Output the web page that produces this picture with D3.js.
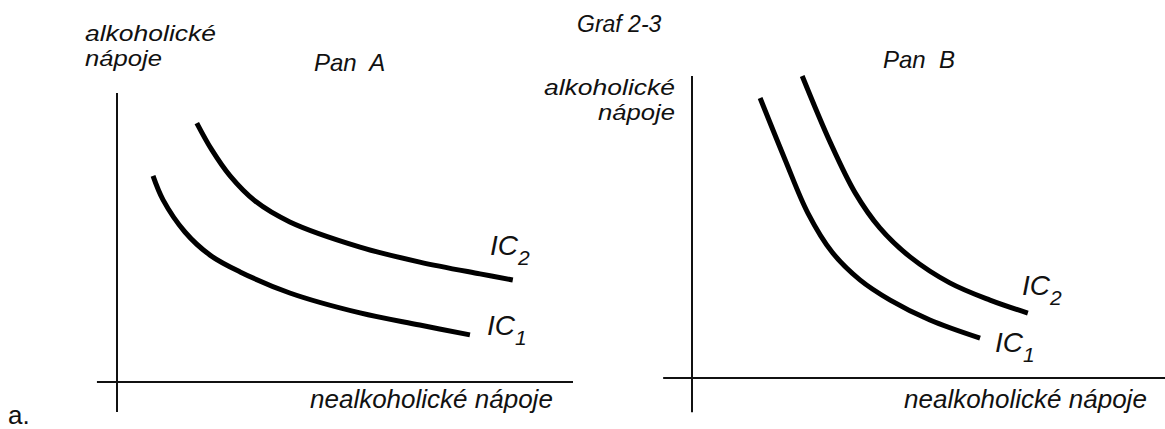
<!DOCTYPE html>
<html>
<head>
<meta charset="utf-8">
<script src="https://cdn.jsdelivr.net/npm/d3@7"></script>
<style>
  body { margin: 0; background: #fff; }
  text { font-family: "Liberation Sans", Arial, sans-serif; fill: #111; }
  .lbl { font-style: italic; white-space: pre; }
</style>
</head>
<body>
<div id="chart"></div>
<script>
// indifference curves, values (0..100 units on each axis)
var panA_ic1 = [[7.9,71.3],[10.1,63.0],[14.9,51.9],[20.4,43.9],[27.0,38.1],[37.9,30.8],[53.3,23.9],[66.4,19.7],[77.4,16.3]];
var panA_ic2 = [[17.5,89.6],[20.8,80.3],[24.8,71.3],[30.3,62.6],[37.9,55.4],[53.3,46.7],[66.4,41.5],[79.6,37.4],[86.8,35.3]];
var panB_ic1 = [[14.4,92.7],[19.7,72.2],[24.5,54.6],[29.6,41.7],[35.5,32.5],[41.9,25.8],[50.3,19.2],[60.9,13.2]];
var panB_ic2 = [[23.3,100],[29.2,78.1],[34.5,61.3],[39.7,49.7],[46.1,40.1],[54.5,31.5],[63.0,25.8],[71.0,21.5]];

var yLabel = ["alkoholické", "nápoje"];
var xLabel = "nealkoholické nápoje";
var panelTitles = ["Pan  A", "Pan  B"];
var curveNames = ["IC", "IC"];
var curveSubs = ["1", "2"];

window.addEventListener('DOMContentLoaded', (event) => {
  var width = 1165, height = 429;

  var svg = d3.select("#chart")
              .append("svg")
              .attr("width", width)
              .attr("height", height);

  // one set of scales per panel
  var panels = [
    { x: d3.scaleLinear().domain([0, 100]).range([117, 573]),
      y: d3.scaleLinear().domain([0, 100]).range([382, 93]),
      xMin: -4.4, yMin: -10.4,
      curves: [panA_ic1, panA_ic2] },
    { x: d3.scaleLinear().domain([0, 100]).range([692, 1165]),
      y: d3.scaleLinear().domain([0, 100]).range([378, 76]),
      xMin: -6.1, yMin: -11.3,
      curves: [panB_ic1, panB_ic2] }
  ];

  panels.forEach(function(p) {
    var g = svg.append("g");

    // axes
    g.append("line")
      .attr("x1", p.x(p.xMin)).attr("x2", p.x(100))
      .attr("y1", p.y(0)).attr("y2", p.y(0))
      .style("stroke", "#111").style("stroke-width", 2);
    g.append("line")
      .attr("x1", p.x(0)).attr("x2", p.x(0))
      .attr("y1", p.y(p.yMin)).attr("y2", p.y(100))
      .style("stroke", "#111").style("stroke-width", 2);

    var line = d3.line()
                 .x(d => p.x(d[0]))
                 .y(d => p.y(d[1]))
                 .curve(d3.curveCatmullRom.alpha(0.5));

    g.selectAll("path.ic")
      .data(p.curves)
      .enter().append("path")
        .attr("class", "ic")
        .attr("d", line)
        .style("fill", "none")
        .style("stroke", "#000")
        .style("stroke-width", 5);
  });

  function label(x, y, txt, size, anchor, len) {
    var t = svg.append("text")
               .attr("class", "lbl")
               .attr("x", x).attr("y", y)
               .attr("text-anchor", anchor || "start")
               .style("font-size", size + "px")
               .text(txt);
    if (len) t.attr("textLength", len).attr("lengthAdjust", "spacingAndGlyphs");
    return t;
  }

  function icLabel(x, y, i) {
    var t = svg.append("text")
               .attr("class", "lbl")
               .attr("x", x).attr("y", y)
               .style("font-size", "28px");
    t.append("tspan").text(curveNames[i]);
    t.append("tspan").attr("dy", 10).style("font-size", "21px").text(curveSubs[i]);
  }

  label(577, 32, "Graf 2-3", 23);

  // Pan A
  label(85, 41, yLabel[0], 22, "start", 131);
  label(85, 66, yLabel[1], 22, "start", 77);
  label(314, 71, panelTitles[0], 24);
  label(310, 408, xLabel, 26);
  icLabel(490, 255, 1);
  icLabel(487, 335, 0);

  // Pan B
  label(675, 95, yLabel[0], 22, "end", 131);
  label(675, 120, yLabel[1], 22, "end", 77);
  label(883, 68, panelTitles[1], 24);
  label(904, 408, xLabel, 26);
  icLabel(1022, 295, 1);
  icLabel(995, 352, 0);

  svg.append("text")
     .attr("x", 8).attr("y", 424)
     .style("font-size", "26px")
     .text("a.");
});
</script>
</body>
</html>
